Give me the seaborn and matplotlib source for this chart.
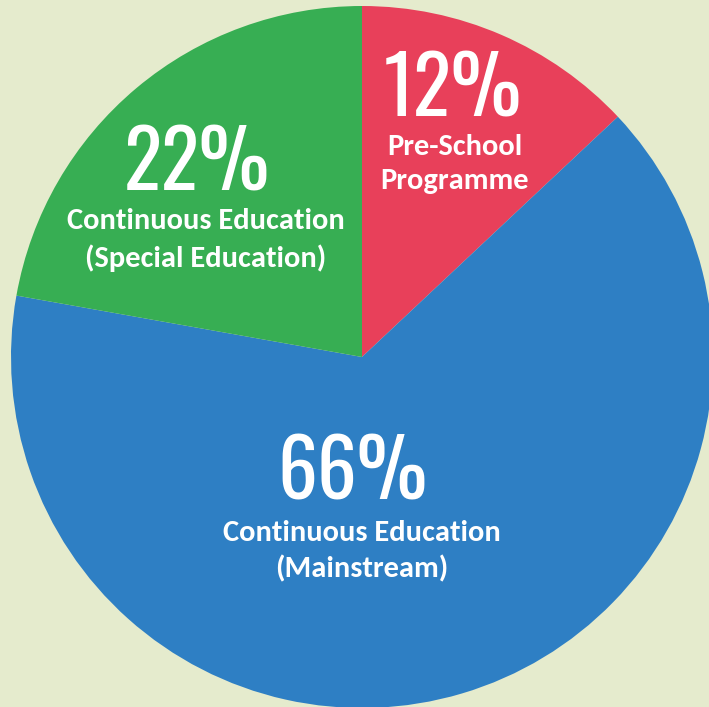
import matplotlib
matplotlib.use("Agg")
import matplotlib.pyplot as plt
import seaborn as sns

# --- DATA (clockwise from 12 o'clock) ---
categories = ['Pre-School\nProgramme',
              'Continuous Education\n(Mainstream)',
              'Continuous Education\n(Special Education)']
# wedge sizes as drawn in the graphic (the printed labels are rounded)
shares = [13.0, 64.8, 22.2]
pct_labels = ['12%', '66%', '22%']

# --- STYLE ---
sns.set_theme(style="white")
colors = sns.color_palette(['#E8405A', '#2E7FC4', '#37AE53'])
BG = '#E5EBCD'
NUM_FONT = ['Oswald', 'Antonio', 'Bebas Neue', 'DejaVu Sans']
LBL_FONT = ['Carlito', 'Lato', 'DejaVu Sans']

fig = plt.figure(figsize=(7.09, 7.07), dpi=100, facecolor=BG)
ax = fig.add_axes([0, 0, 1, 1])
ax.set_facecolor(BG)

wedges, _ = ax.pie(shares, colors=colors, startangle=90, counterclock=False,
                   radius=1.0, wedgeprops=dict(linewidth=0))

# pixel layout: centre at (362, 357), radius 351 px
R_PX = 351.0
CX, CY = 362.0, 357.0
W, H = 709.0, 707.0
ax.set_xlim(-CX / R_PX, (W - CX) / R_PX)
ax.set_ylim(-(H - CY) / R_PX, CY / R_PX)
ax.set_aspect('auto')
ax.axis('off')

# label anchors in pixels: (x number, y number, x text, y text)
anchors = [(453, 92, 455, 164),
           (353, 475, 362, 551),
           (197, 166, 206, 240)]

for (xn, yn, xt, yt), pct, cat in zip(anchors, pct_labels, categories):
    ax.text(xn / W, 1 - yn / H, pct, transform=ax.transAxes, ha='center',
            va='center', color='white', fontsize=57, fontweight='semibold',
            family=NUM_FONT)
    ax.text(xt / W, 1 - yt / H, cat, transform=ax.transAxes, ha='center',
            va='center', color='white', fontsize=22, fontweight='bold',
            family=LBL_FONT, linespacing=1.42)

fig.savefig('out.png', dpi=100, facecolor=BG)
